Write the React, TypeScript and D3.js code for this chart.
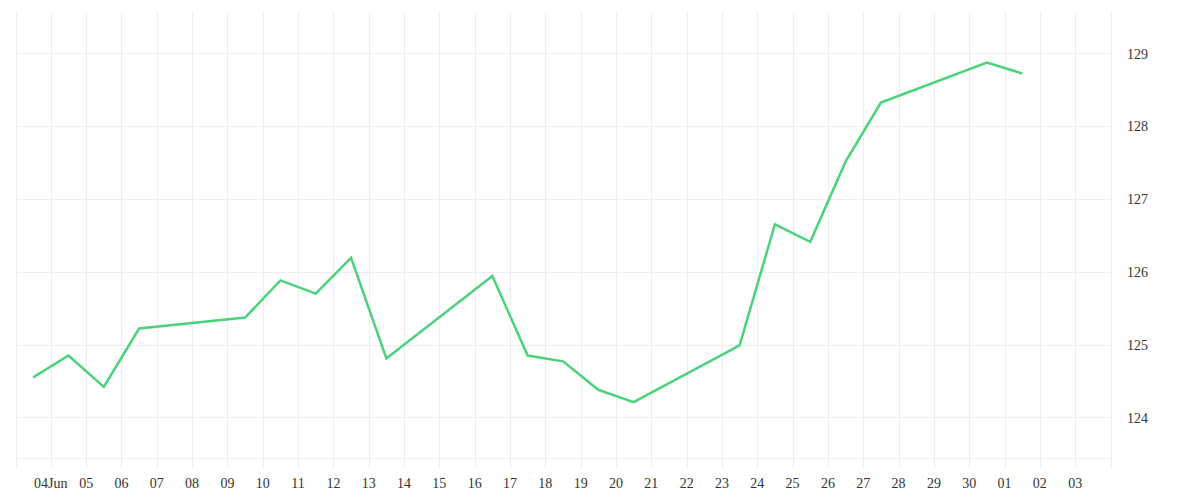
import React from "react";
import * as d3 from "d3";

const dates: string[] = [
  "2025-06-03", "2025-06-04", "2025-06-05", "2025-06-06", "2025-06-09",
  "2025-06-10", "2025-06-11", "2025-06-12", "2025-06-13", "2025-06-16",
  "2025-06-17", "2025-06-18", "2025-06-19", "2025-06-20", "2025-06-23",
  "2025-06-24", "2025-06-25", "2025-06-26", "2025-06-27", "2025-06-30",
  "2025-07-01",
];
const values: number[] = [
  124.55, 124.85, 124.42, 125.22, 125.37,
  125.88, 125.70, 126.19, 124.81, 125.94,
  124.85, 124.77, 124.38, 124.21, 124.99,
  126.65, 126.41, 127.51, 128.32, 128.87,
  128.72,
];
const yTicks: number[] = [124, 125, 126, 127, 128, 129];
const xTickDates: string[] = [
  "2025-06-04", "2025-06-05", "2025-06-06", "2025-06-07", "2025-06-08", "2025-06-09",
  "2025-06-10", "2025-06-11", "2025-06-12", "2025-06-13", "2025-06-14", "2025-06-15",
  "2025-06-16", "2025-06-17", "2025-06-18", "2025-06-19", "2025-06-20", "2025-06-21",
  "2025-06-22", "2025-06-23", "2025-06-24", "2025-06-25", "2025-06-26", "2025-06-27",
  "2025-06-28", "2025-06-29", "2025-06-30", "2025-07-01", "2025-07-02", "2025-07-03",
];
const xTickLabels: string[] = [
  "04Jun", "05", "06", "07", "08", "09", "10", "11", "12", "13", "14", "15",
  "16", "17", "18", "19", "20", "21", "22", "23", "24", "25", "26", "27",
  "28", "29", "30", "01", "02", "03",
];
const xDomain: string[] = ["2025-06-03", "2025-07-04"];
const yDomain: number[] = [123.437, 129.563];

const W = 1200;
const H = 500;
const left = 15.5;
const right = 1110.5;
const top = 12;
const bottom = 458.5;
const grid = "#eeeeee";
const lineColor = "#4cd27c";
const font = "'Liberation Serif', serif";

export default function App() {
  const parse = (s: string) => new Date(s + "T00:00:00Z");
  const x = d3.scaleUtc().domain(xDomain.map(parse)).range([left, right]);
  const y = d3.scaleLinear().domain(yDomain).range([bottom, top]);
  const pts = dates.map((d, i) => ({ t: new Date(parse(d).getTime() + 12 * 3600 * 1000), v: values[i] }));
  const line = d3
    .line<{ t: Date; v: number }>()
    .x((d) => x(d.t))
    .y((d) => y(d.v));
  const allDays = d3.utcDay.range(parse(xDomain[0]), d3.utcDay.offset(parse(xDomain[1]), 1));
  return (
    <svg width={W} height={H} style={{ position: "absolute", left: 0, top: 0 }}>
      <rect width={W} height={H} fill="#fff" />
      {allDays.map((d, i) => (
        <line key={"v" + i} x1={Math.round(x(d)) + 0.5} x2={Math.round(x(d)) + 0.5} y1={top} y2={bottom + 10} stroke={grid} strokeWidth={1} />
      ))}
      {yTicks.map((t) => (
        <line key={"h" + t} x1={left} x2={right} y1={Math.round(y(t)) + 0.5} y2={Math.round(y(t)) + 0.5} stroke={grid} strokeWidth={1} />
      ))}
      <line x1={left} x2={right} y1={bottom} y2={bottom} stroke={grid} strokeWidth={1} />
      <path d={line(pts) || ""} fill="none" stroke={lineColor} strokeWidth={2.5} strokeLinejoin="miter" />
      {xTickDates.map((d, i) => (
        <text key={"xt" + i} x={x(parse(d))} y={488} textAnchor="middle" fontFamily={font} fontSize={14} fill="#333">
          {xTickLabels[i]}
        </text>
      ))}
      {yTicks.map((t) => (
        <text key={"yt" + t} x={1127} y={y(t) + 5.5} fontFamily={font} fontSize={14} fill="#333">
          {t}
        </text>
      ))}
    </svg>
  );
}
